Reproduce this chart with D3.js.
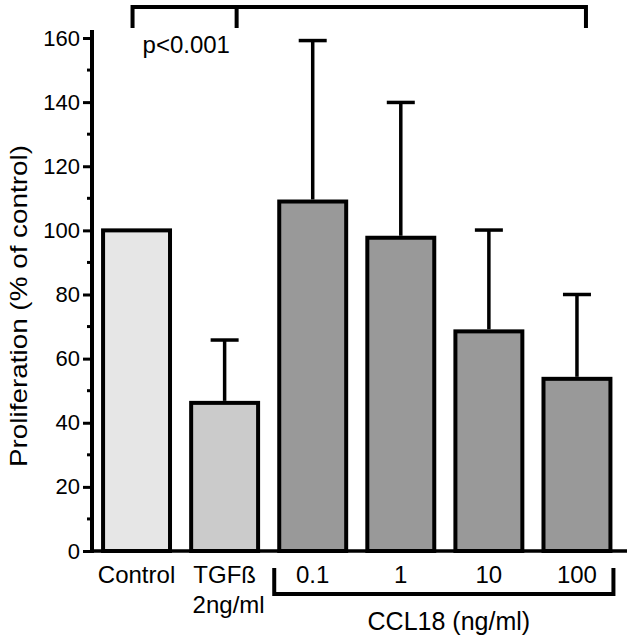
<!DOCTYPE html>
<html>
<head>
<meta charset="utf-8">
<script src="https://cdn.jsdelivr.net/npm/d3@7"></script>
<style>
  html, body { margin: 0; padding: 0; background: #fff; }
  svg { display: block; font-family: "Liberation Sans", Arial, sans-serif; }
</style>
</head>
<body>
<svg id="chart" width="634" height="643"></svg>
<script>
const categories = ["Control", "TGFß", "0.1", "1", "10", "100"];
const subLabels = ["", "2ng/ml", "", "", "", ""];
const values = [100, 46.2, 109, 97.7, 68.5, 53.7];
const errors = [0, 19.6, 50.2, 42.2, 31.6, 26.3];
const groups = ["ctrl", "tgf", "ccl", "ccl", "ccl", "ccl"];
const yTicks = [0, 20, 40, 60, 80, 100, 120, 140, 160];
const groupLabel = "CCL18 (ng/ml)";
const pLabel = "p<0.001";
const yTitle = "Proliferation (% of control)";

const fills = { ctrl: "#e6e6e6", tgf: "#cbcbcb", ccl: "#999999" };

const svg = d3.select("#chart");
const axisX = 92, baseY = 551, topY = 38;

const x = d3.scaleBand().domain(categories).range([92.5, 621]).paddingInner(0.24).paddingOuter(0.12);
const y = d3.scaleLinear().domain([0, 160]).range([baseY, topY]);
const data = categories.map((c, i) => ({ c, v: values[i], e: errors[i], g: groups[i], sub: subLabels[i] }));

// bars
svg.append("g").selectAll("rect").data(data).join("rect")
  .attr("x", d => x(d.c))
  .attr("y", d => y(d.v))
  .attr("width", x.bandwidth())
  .attr("height", d => y(0) - y(d.v))
  .attr("fill", d => fills[d.g])
  .attr("stroke", "#000")
  .attr("stroke-width", 4);

// error bars
const eb = svg.append("g").selectAll("g").data(data.filter(d => d.e > 0)).join("g");
eb.append("line")
  .attr("x1", d => x(d.c) + x.bandwidth() / 2).attr("x2", d => x(d.c) + x.bandwidth() / 2)
  .attr("y1", d => y(d.v) - 2).attr("y2", d => y(d.v + d.e))
  .attr("stroke", "#000").attr("stroke-width", 3.5);
eb.append("line")
  .attr("x1", d => x(d.c) + x.bandwidth() / 2 - 14).attr("x2", d => x(d.c) + x.bandwidth() / 2 + 14)
  .attr("y1", d => y(d.v + d.e)).attr("y2", d => y(d.v + d.e))
  .attr("stroke", "#000").attr("stroke-width", 3.5);

// y axis
const yAxis = d3.axisLeft(y).tickValues(yTicks).tickSize(9).tickPadding(3);
const ga = svg.append("g").attr("transform", `translate(${axisX},0)`).call(yAxis);
ga.select(".domain").remove();
ga.selectAll(".tick line").attr("stroke-width", 3);
ga.selectAll(".tick text").attr("font-size", 22).attr("fill", "#000")
  .attr("font-family", "Liberation Sans, Arial, sans-serif");
// minor ticks
const minor = d3.range(10, 160, 20);
svg.append("g").selectAll("line").data(minor).join("line")
  .attr("x1", axisX - 5).attr("x2", axisX)
  .attr("y1", d => y(d)).attr("y2", d => y(d))
  .attr("stroke", "#000").attr("stroke-width", 3);
svg.append("line").attr("x1", axisX).attr("x2", axisX)
  .attr("y1", y(0) + 2).attr("y2", y(162.5))
  .attr("stroke", "#000").attr("stroke-width", 4);
// x baseline
svg.append("line").attr("x1", axisX - 2).attr("x2", 627)
  .attr("y1", y(0)).attr("y2", y(0))
  .attr("stroke", "#000").attr("stroke-width", 3.5);

// category labels
const lab = svg.append("g").attr("font-size", 24).attr("fill", "#000").attr("text-anchor", "middle");
lab.selectAll("text.main").data(data).join("text").attr("class", "main")
  .attr("x", d => x(d.c) + x.bandwidth() / 2).attr("y", baseY + 32).text(d => d.c);
lab.selectAll("text.sub").data(data.filter(d => d.sub)).join("text").attr("class", "sub")
  .attr("x", d => x(d.c) + x.bandwidth() / 2 + 4).attr("y", baseY + 62).text(d => d.sub);

// CCL18 bracket
const cclCats = categories.filter((c, i) => groups[i] === "ccl");
const bx0 = x(cclCats[0]) - 5, bx1 = x(cclCats[cclCats.length - 1]) + x.bandwidth() + 3;
svg.append("path")
  .attr("d", `M${bx0},${baseY + 17}V${baseY + 43}H${bx1}V${baseY + 17}`)
  .attr("fill", "none").attr("stroke", "#000").attr("stroke-width", 4);
svg.append("text").attr("x", (bx0 + bx1) / 2 + 5).attr("y", baseY + 79)
  .attr("text-anchor", "middle").attr("font-size", 25).attr("fill", "#000").text(groupLabel);

// significance bracket
const sx0 = x(categories[0]) + x.bandwidth() / 2 - 4;
const sxm = x(categories[1]) + x.bandwidth() / 2 + 12;
const sx1 = x(categories[5]) + x.bandwidth() / 2 + 9;
const sTop = 7, sBot = 28;
svg.append("path")
  .attr("d", `M${sx0},${sBot}V${sTop}H${sx1}V${sBot}M${sxm},${sTop}V${sBot}`)
  .attr("fill", "none").attr("stroke", "#000").attr("stroke-width", 4);
svg.append("text").attr("x", sx0 + 10).attr("y", 53)
  .attr("font-size", 24).attr("fill", "#000").text(pLabel);

// y title
svg.append("text")
  .attr("transform", `translate(27,306) rotate(-90)`)
  .attr("text-anchor", "middle").attr("font-size", 24).attr("fill", "#000")
  .attr("textLength", 322).attr("lengthAdjust", "spacingAndGlyphs")
  .text(yTitle);
</script>
</body>
</html>
